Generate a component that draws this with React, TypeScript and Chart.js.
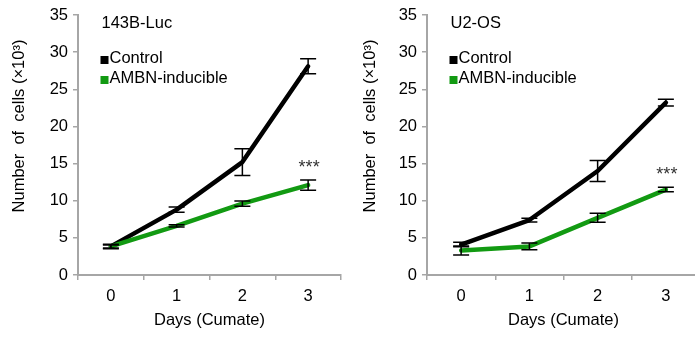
import React, { useEffect, useRef } from "react";
import { Chart, registerables } from "chart.js";

Chart.register(...registerables);

// ---- data ----
const days = ["0", "1", "2", "3"];
const yTicks = [0, 5, 10, 15, 20, 25, 30, 35];

const lucControl = [3.85, 8.8, 15.2, 28.1];
const lucControlErr = [0.3, 0.35, 1.8, 1.0];
const lucAmbn = [3.85, 6.6, 9.6, 12.1];
const lucAmbnErr = [0.2, 0.15, 0.35, 0.7];

const u2Control = [4.1, 7.4, 14.0, 23.2];
const u2ControlErr = [0.3, 0.25, 1.4, 0.45];
const u2Ambn = [3.3, 3.85, 7.7, 11.5];
const u2AmbnErr = [0.6, 0.45, 0.6, 0.3];

const legendLabels = ["Control", "AMBN-inducible"];
const sigMark = "***";

const FONT = "'Liberation Sans', Arial, Helvetica, sans-serif";
const AXIS = "#a6a6a6";
const GREEN = "#129a12";
const BLACK = "#000000";

const decorPlugin = {
  id: "decor",
  afterDatasetsDraw(chart: any, _args: any, opts: any) {
    const ctx = chart.ctx as CanvasRenderingContext2D;
    const ys = chart.scales.y;
    const { left, top } = chart.chartArea;
    ctx.save();
    // error bars
    ctx.strokeStyle = "#000";
    ctx.lineWidth = 1.5;
    (opts.errors as number[][]).forEach((errs, di) => {
      const meta = chart.getDatasetMeta(di);
      const data = chart.data.datasets[di].data as number[];
      meta.data.forEach((pt: any, j: number) => {
        const v = data[j];
        const e = errs[j];
        const yt = ys.getPixelForValue(v + e);
        const yb = ys.getPixelForValue(v - e);
        const x = pt.x;
        const hw = 8;
        ctx.beginPath();
        ctx.moveTo(x, yt);
        ctx.lineTo(x, yb);
        ctx.moveTo(x - hw, yt);
        ctx.lineTo(x + hw, yt);
        ctx.moveTo(x - hw, yb);
        ctx.lineTo(x + hw, yb);
        ctx.stroke();
      });
    });
    // significance stars above last green point
    {
      const di = 1;
      const meta = chart.getDatasetMeta(di);
      const data = chart.data.datasets[di].data as number[];
      const last = data.length - 1;
      const pt = meta.data[last];
      const yv = data[last] + opts.errors[di][last] + 2.2;
      ctx.fillStyle = "#333";
      ctx.font = `18px ${FONT}`;
      ctx.textAlign = "center";
      ctx.textBaseline = "alphabetic";
      ctx.fillText(sigMark, pt.x + 1, ys.getPixelForValue(yv) + 9);
    }
    // panel title
    ctx.fillStyle = "#000";
    ctx.font = `16.5px ${FONT}`;
    ctx.textAlign = "left";
    ctx.textBaseline = "middle";
    const lx = left + 23.5;
    ctx.fillText(opts.title, lx, top + 8);
    // legend
    const colors = [BLACK, GREEN];
    const rowY = [top + 43, top + 63];
    legendLabels.forEach((lab, i) => {
      ctx.fillStyle = colors[i];
      ctx.fillRect(lx - 1, rowY[i] - 2, 8, 8);
      ctx.fillStyle = "#000";
      ctx.fillText(lab, lx + 8, rowY[i]);
    });
    // y title
    ctx.save();
    ctx.translate(opts.yTitleX, 126);
    ctx.rotate(-Math.PI / 2);
    ctx.textAlign = "center";
    ctx.textBaseline = "middle";
    ctx.font = `16.5px ${FONT}`;
    ctx.fillStyle = "#000";
    ctx.fillText("Number  of  cells (×10³)", 0, 0);
    ctx.restore();
    ctx.restore();
  },
};

type PanelProps = {
  title: string;
  control: number[];
  controlErr: number[];
  ambn: number[];
  ambnErr: number[];
  width: number;
  padRight: number;
  yTitleX: number;
};

function Panel(p: PanelProps) {
  const ref = useRef<HTMLCanvasElement | null>(null);
  useEffect(() => {
    if (!ref.current) return;
    const chart = new Chart(ref.current, {
      type: "line",
      data: {
        labels: days,
        datasets: [
          {
            label: legendLabels[0],
            data: p.control,
            borderColor: BLACK,
            backgroundColor: BLACK,
            borderWidth: 4.5,
            pointRadius: 0,
            tension: 0,
            borderJoinStyle: "round",
            borderCapStyle: "round",
            order: 1,
          },
          {
            label: legendLabels[1],
            data: p.ambn,
            borderColor: GREEN,
            backgroundColor: GREEN,
            borderWidth: 4.5,
            pointRadius: 0,
            tension: 0,
            borderJoinStyle: "round",
            borderCapStyle: "round",
            order: 0,
          },
        ],
      },
      options: {
        responsive: false,
        animation: false,
        devicePixelRatio: 1,
        layout: { padding: { top: 15, left: 0, right: p.padRight, bottom: 0 } },
        plugins: {
          legend: { display: false },
          tooltip: { enabled: false },
          decor: { errors: [p.controlErr, p.ambnErr], title: p.title, yTitleX: p.yTitleX },
        } as any,
        scales: {
          x: {
            type: "category",
            offset: true,
            grid: {
              offset: true,
              drawOnChartArea: false,
              drawTicks: true,
              tickLength: 5,
              color: AXIS,
              lineWidth: 1.5,
            },
            border: { display: true, color: AXIS, width: 2 },
            ticks: { color: "#000", font: { family: FONT, size: 16.5 }, padding: 7, maxRotation: 0 },
            title: {
              display: true,
              text: "Days (Cumate)",
              color: "#000",
              font: { family: FONT, size: 16.5 },
              padding: { top: 0, bottom: 7 },
            },
            afterFit: (s: any) => {
              s.height = 62;
            },
          },
          y: {
            min: 0,
            max: 35,
            afterBuildTicks: (s: any) => {
              s.ticks = yTicks.map((v) => ({ value: v }));
            },
            grid: {
              drawOnChartArea: false,
              drawTicks: true,
              tickLength: 5,
              color: AXIS,
              lineWidth: 1.5,
            },
            border: { display: true, color: AXIS, width: 2 },
            ticks: { color: "#000", font: { family: FONT, size: 16.5 }, padding: 5 },
            afterFit: (s: any) => {
              s.width = 78;
            },
          },
        },
      },
      plugins: [decorPlugin],
    });
    return () => chart.destroy();
  }, []);
  return <canvas ref={ref} width={p.width} height={337} style={{ display: "block" }} />;
}

export default function App() {
  return (
    <div
      style={{
        position: "fixed",
        left: 0,
        top: 0,
        width: 695,
        height: 337,
        overflow: "hidden",
        background: "#fff",
      }}
    >
      <div style={{ position: "absolute", left: 0, top: 0 }}>
        <Panel
          title="143B-Luc"
          control={lucControl}
          controlErr={lucControlErr}
          ambn={lucAmbn}
          ambnErr={lucAmbnErr}
          width={347}
          padRight={6}
          yTitleX={19}
        />
      </div>
      <div style={{ position: "absolute", left: 349, top: 0 }}>
        <Panel
          title="U2-OS"
          control={u2Control}
          controlErr={u2ControlErr}
          ambn={u2Ambn}
          ambnErr={u2AmbnErr}
          width={352}
          padRight={1}
          yTitleX={21}
        />
      </div>
    </div>
  );
}
